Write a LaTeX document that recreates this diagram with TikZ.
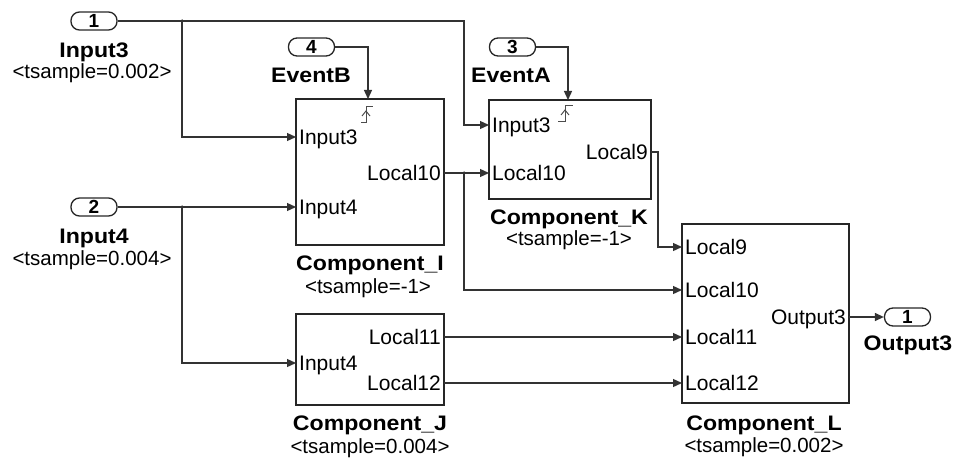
\documentclass[tikz,border=0pt]{standalone}
\usepackage{fontspec}
\setmainfont{Liberation Sans}
\newfontfamily\lblfont[FakeStretch=1.1]{Liberation Sans Bold}
\usetikzlibrary{arrows.meta}
\begin{document}
\begin{tikzpicture}[x=1pt,y=-1pt,
  blk/.style={draw=black!85, line width=1.7pt, inner sep=0pt},
  blkthick/.style={draw=black!85, line width=2.6pt, inner sep=0pt},
  ioport/.style={draw=black!85, rounded corners=8.5pt, line width=1.3pt, minimum width=46pt, minimum height=18pt, inner sep=0pt, font=\fontsize{19}{19}\selectfont\bfseries},
  wire/.style={line width=1.3pt, draw=black!80},
  arr/.style={wire, -{Triangle[length=9pt,width=8pt]}},
  dotb/.style={circle, fill=black!80, inner sep=0pt, minimum size=3.5pt},
  plbl/.style={font=\fontsize{21}{21}\selectfont, inner sep=0pt},
  ttl/.style={font=\fontsize{21}{21}\lblfont, inner sep=0pt, anchor=base},
  ts/.style={font=\fontsize{20.5}{20.5}\selectfont, inner sep=0pt, anchor=base},
  trig/.style={line width=1pt, draw=black!70}
]
\useasboundingbox (0,0) rectangle (970,460);

% ---------- blocks ----------
\node[blk, minimum width=148pt, minimum height=146pt] (I) at (370,172) {};
\node[blk, minimum width=148pt, minimum height=91pt] (J) at (370,359.5) {};
\node[blkthick, minimum width=162pt, minimum height=99pt] (K) at (570,149.5) {};
\node[blkthick, minimum width=167pt, minimum height=179pt] (L) at (765.5,313.5) {};

% ---------- in/out ports ----------
\node[ioport] (in1) at (94,21) {1};
\node[ioport] (in2) at (94,207) {2};
\node[ioport] (in4) at (311.5,47) {4};
\node[ioport] (in3) at (512.5,47) {3};
\node[ioport] (out1) at (907.5,317) {1};

% ---------- titles ----------
\node[ttl] (tIn3) at (94,58) {Input3};
\node[ts] (sIn3) at (92,78) {<tsample=0.002>};
\node[ttl] (tIn4) at (94,243) {Input4};
\node[ts] (sIn4) at (92,265) {<tsample=0.004>};
\node[ttl] (tEvB) at (311,82) {EventB};
\node[ttl] (tEvA) at (511,82) {EventA};
\node[ttl] (tI) at (370,270) {Component\_I};
\node[ts] (sI) at (368,293) {<tsample=-1>};
\node[ttl] (tJ) at (370,430) {Component\_J};
\node[ts] (sJ) at (370,453) {<tsample=0.004>};
\node[ttl] (tK) at (569,224) {Component\_K};
\node[ts] (sK) at (569,245) {<tsample=-1>};
\node[ttl] (tL) at (764,430) {Component\_L};
\node[ts] (sL) at (764,452) {<tsample=0.002>};
\node[ttl] (tOut) at (908,350) {Output3};

% ---------- port labels ----------
\node[plbl, anchor=base west] (I-l1) at (299,144.5) {Input3};
\node[plbl, anchor=base west] (I-l2) at (299,214.5) {Input4};
\node[plbl, anchor=base east] (I-r1) at (441,180.5) {Local10};
\node[plbl, anchor=base west] (J-l1) at (299,370.5) {Input4};
\node[plbl, anchor=base east] (J-r1) at (441,344.5) {Local11};
\node[plbl, anchor=base east] (J-r2) at (441,390.5) {Local12};
\node[plbl, anchor=base west] (K-l1) at (492,132.5) {Input3};
\node[plbl, anchor=base west] (K-l2) at (492,180.5) {Local10};
\node[plbl, anchor=base east] (K-r1) at (648,159.5) {Local9};
\node[plbl, anchor=base west] (L-l1) at (685,254.5) {Local9};
\node[plbl, anchor=base west] (L-l2) at (685,297.5) {Local10};
\node[plbl, anchor=base west] (L-l3) at (685,344.5) {Local11};
\node[plbl, anchor=base west] (L-l4) at (685,390.5) {Local12};
\node[plbl, anchor=base east] (L-r1) at (846,324.5) {Output3};

% ---------- port coordinates ----------
\coordinate (I-in1) at (296,137);
\coordinate (I-in2) at (296,207);
\coordinate (I-out1) at (444,173);
\coordinate (I-trig) at (368,99);
\coordinate (J-in1) at (296,363);
\coordinate (J-out1) at (444,337);
\coordinate (J-out2) at (444,383);
\coordinate (K-in1) at (489,125);
\coordinate (K-in2) at (489,173);
\coordinate (K-out1) at (651,152);
\coordinate (K-trig) at (568,100);
\coordinate (L-in1) at (682,247);
\coordinate (L-in2) at (682,290);
\coordinate (L-in3) at (682,337);
\coordinate (L-in4) at (682,383);
\coordinate (L-out1) at (849,317);
\coordinate (b1) at (182,21);
\coordinate (b2) at (182,207);
\coordinate (b3) at (464,173);

% ---------- connectors ----------
\draw[arr] (in1.east) -- (464,21) |- (K-in1);
\draw[arr] (b1) |- (I-in1);
\draw[arr] (in2.east) -- (I-in2);
\draw[arr] (b2) |- (J-in1);
\draw[arr] (in4.east) -| (I-trig);
\draw[arr] (in3.east) -| (K-trig);
\draw[arr] (I-out1) -- (K-in2);
\draw[arr] (b3) |- (L-in2);
\draw[arr] (K-out1) -- (658,152) |- (L-in1);
\draw[arr] (J-out1) -- (L-in3);
\draw[arr] (J-out2) -- (L-in4);
\draw[arr] (L-out1) -- (out1.west);
\node[dotb] (d1) at (b1) {};
\node[dotb] (d2) at (b2) {};
\node[dotb] (d3) at (b3) {};

% ---------- trigger icons ----------
\draw[trig] (361,122) -- (366,122) -- (366,107) -- (373,107);
\draw[trig] (362,116) -- (366,111) -- (370,116);
\draw[trig] (558,121) -- (565,121) -- (565,106) -- (573,106);
\draw[trig] (561,115) -- (565,110) -- (569,115);
\end{tikzpicture}
\end{document}
